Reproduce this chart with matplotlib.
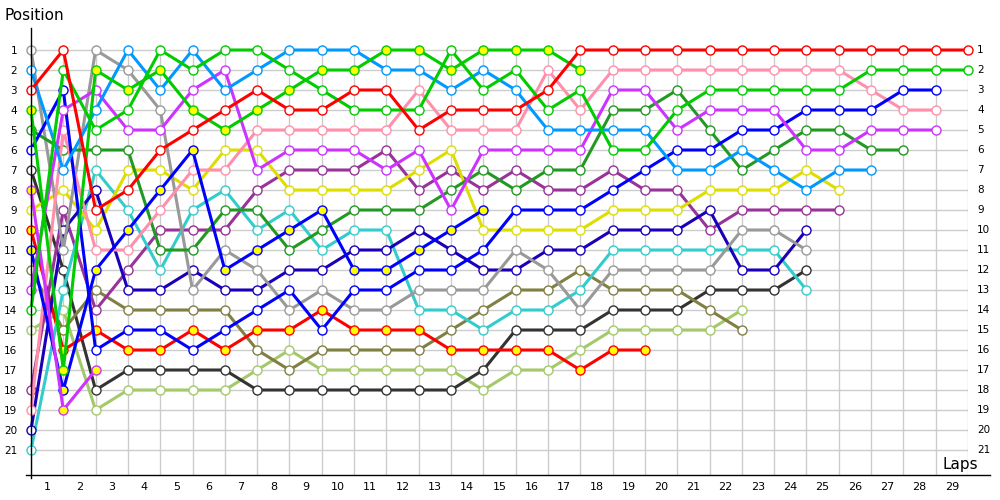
import matplotlib.pyplot as plt
from matplotlib.lines import Line2D

# race position at the end of each lap (index 0 = starting grid)
red_a = [3, 1, 9, 8, 6, 5, 4, 3, 4, 4, 3, 3, 5, 4, 4, 4, 3,
         1, 1, 1, 1, 1, 1, 1, 1, 1, 1, 1, 1, 1]
red_b = [10, 16, 15, 16, 16, 15, 16, 15, 15, 14, 15, 15, 15, 16, 16, 16, 16, 17, 16, 16]
green_a = [14, 2, 5, 4, 1, 2, 1, 1, 2, 3, 4, 4, 4, 1, 3, 2, 4, 3, 6, 6,
           4, 3, 3, 3, 3, 3, 2, 2, 2, 2]
green_b = [4, 17, 2, 3, 2, 4, 5, 4, 3, 2, 2, 1, 1, 2, 1, 1, 1, 2]
lightblue = [2, 7, 4, 1, 3, 1, 3, 2, 1, 1, 1, 2, 2, 3, 2, 3, 5, 5, 5, 5,
             7, 7, 6, 7, 8, 7, 7]
gray = [1, 11, 1, 2, 4, 13, 11, 12, 14, 13, 14, 14, 13, 13, 13, 11, 12, 14,
        12, 12, 12, 12, 10, 10, 11]
violet_a = [13, 4, 3, 5, 5, 3, 2, 7, 6, 6, 6, 7, 6, 9, 6, 6, 6, 6, 3, 3,
            5, 4, 4, 4, 6, 6, 5, 5, 5]
violet_b = [8, 19, 17]
blue_a = [6, 3, 16, 15, 15, 16, 15, 14, 13, 15, 13, 13, 12, 12, 11, 9, 9, 9,
          8, 7, 6, 6, 5, 5, 4, 4, 4, 3, 3]
blue_b = [11, 18, 12, 10, 8, 6, 12, 11, 10, 9, 12, 12, 11, 10, 9]
navy = [20, 10, 8, 13, 13, 12, 13, 13, 12, 12, 11, 11, 10, 11, 12, 12, 11, 11,
        10, 10, 10, 9, 12, 12, 10]
darkgreen = [5, 6, 6, 6, 11, 11, 9, 9, 11, 10, 9, 9, 9, 8, 7, 8, 7, 7, 4, 4,
             3, 5, 7, 6, 5, 5, 6, 6]
pink = [19, 5, 11, 11, 9, 7, 7, 5, 5, 5, 5, 5, 3, 5, 5, 5, 2, 4, 2, 2,
        2, 2, 2, 2, 2, 2, 3, 4, 4]
yellow = [9, 8, 10, 7, 7, 8, 6, 6, 8, 8, 8, 8, 7, 6, 10, 10, 10, 10, 9, 9,
          9, 8, 8, 8, 7, 8]
cyan = [21, 13, 7, 9, 12, 9, 8, 10, 9, 11, 10, 10, 14, 14, 15, 14, 14, 13,
        11, 11, 11, 11, 11, 11, 13]
purple = [18, 9, 14, 12, 10, 10, 10, 8, 7, 7, 7, 6, 8, 7, 8, 7, 8, 8, 7, 8,
          8, 10, 9, 9, 9, 9]
olive = [12, 15, 13, 14, 14, 14, 14, 16, 17, 16, 16, 16, 16, 15, 14, 13, 13,
         12, 13, 13, 13, 14, 15]
black = [7, 12, 18, 17, 17, 17, 17, 18, 18, 18, 18, 18, 18, 18, 17, 15, 15,
         15, 14, 14, 14, 13, 13, 13, 12]
lightgreen = [15, 14, 19, 18, 18, 18, 18, 17, 16, 17, 17, 17, 17, 17, 18, 17,
              17, 16, 15, 15, 15, 15, 14]

n_laps = 29
n_pos = 21
lap_labels = [str(i) for i in range(1, n_laps + 1)]
pos_labels = [str(i) for i in range(1, n_pos + 1)]

# (positions, line colour, marker fill)
drivers = [
    (lightgreen, '#a3c96a', 'white'),
    (black, '#333333', 'white'),
    (olive, '#808045', 'white'),
    (red_b, '#ff0000', '#ffff00'),
    (purple, '#993399', 'white'),
    (cyan, '#33cccc', 'white'),
    (yellow, '#dddd00', 'white'),
    (navy, '#1a00b8', 'white'),
    (gray, '#999999', 'white'),
    (darkgreen, '#229922', 'white'),
    (pink, '#ff8fab', 'white'),
    (blue_b, '#0000ff', '#ffff00'),
    (blue_a, '#0000ff', 'white'),
    (violet_b, '#cc33ff', '#ffff00'),
    (violet_a, '#cc33ff', 'white'),
    (lightblue, '#0099ff', 'white'),
    (green_b, '#00cc00', '#ffff00'),
    (green_a, '#00cc00', 'white'),
    (red_a, '#ff0000', 'white'),
]

fig = plt.figure(figsize=(10, 5), dpi=100)
ax = fig.add_axes([0.031, 0.05, 0.937, 0.86])

for pos, col, face in drivers:
    ax.plot(range(len(pos)), pos, color=col, lw=2.2, marker='o', ms=6.5,
            mfc=face, mec=col, mew=1.0, clip_on=False, zorder=3)

ax.set_xlim(0, n_laps)
ax.set_ylim(n_pos + 1.25, 0.75)
ax.set_xticks(range(n_laps + 1))
ax.set_xticks([i - 0.5 for i in range(1, n_laps + 1)], labels=lap_labels, minor=True)
ax.set_yticks(range(1, n_pos + 1), labels=pos_labels)
ax.grid(which='major', color='#cccccc', lw=1)
ax.tick_params(which='major', axis='x', length=0, labelbottom=False)
ax.tick_params(which='minor', axis='x', length=0, pad=5, labelsize=8)
ax.tick_params(axis='y', length=0, pad=10, labelsize=7.5)
for s in ax.spines.values():
    s.set_visible(False)

# position numbers on the right side too
for p, lab in zip(range(1, n_pos + 1), pos_labels):
    ax.text(n_laps + 0.28, p, lab, ha='left', va='center', fontsize=7.5)

# axis lines, drawn past the plot area like the original
fig.add_artist(Line2D([0.031, 0.031], [0.044, 0.945], color='black', lw=1))
fig.add_artist(Line2D([0.026, 0.99], [0.05, 0.05], color='black', lw=1))
fig.text(0.005, 0.97, 'Position', fontsize=11, va='center')
fig.text(0.943, 0.07, 'Laps', fontsize=11, va='center')

fig.savefig('out.png', dpi=100)
